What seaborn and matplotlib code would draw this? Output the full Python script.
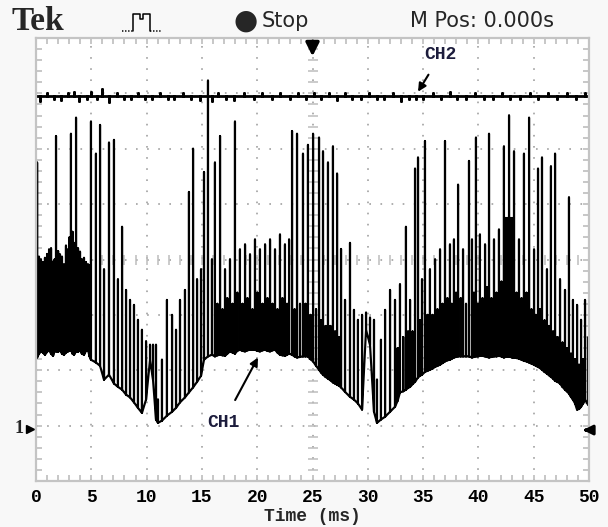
import numpy as np
import pandas as pd
import matplotlib
matplotlib.use("Agg")
import matplotlib.pyplot as plt
from matplotlib.ticker import MultipleLocator
from matplotlib.lines import Line2D
import seaborn as sns

# ---------------- data (time in ms, amplitude in divisions above CH1 ground) -------------
# main CH1 strokes
ch1_t = [0.10, 0.45, 0.81, 1.18, 1.54, 1.81, 2.17, 2.53, 2.89, 3.16, 3.44, 3.62, 3.98, 4.34, 4.70,
         4.97, 5.42, 5.79, 6.15, 6.60, 7.05, 7.41, 7.78, 8.14, 8.50, 8.86, 9.22, 9.58, 9.95, 10.31,
         10.58, 10.85, 11.03, 11.39, 11.84, 12.30, 12.66, 13.02, 13.47, 13.83, 14.20, 14.56, 14.92,
         15.19, 15.55, 15.91, 16.18, 16.64, 17.09, 17.54, 17.99, 18.44, 18.90, 19.35, 19.80, 20.25,
         20.71, 21.16, 21.61, 22.06, 22.51, 22.88, 23.15, 23.60, 24.14, 24.59, 25.05, 25.59, 25.95,
         26.40, 26.85, 27.22, 27.58, 27.94, 28.39, 28.75, 29.11, 29.48, 29.84, 30.20, 30.56, 30.83,
         31.19, 31.56, 32.01, 32.46, 32.91, 33.45, 33.82, 34.27, 34.54, 34.90, 35.17, 35.62, 36.08,
         36.53, 36.98, 37.43, 37.79, 38.16, 38.61, 39.15, 39.42, 39.78, 40.14, 40.60, 40.96, 41.41,
         41.86, 42.31, 42.59, 42.77, 43.04, 43.22, 43.67, 44.12, 44.58, 45.03, 45.39, 45.75, 46.20,
         46.56, 46.93, 47.38, 47.83, 48.19, 48.55, 48.92, 49.28, 49.64, 49.91]
ch1_lo = [1.23, 1.34, 1.28, 1.37, 1.26, 1.34, 1.37, 1.28, 1.34, 1.37, 1.28, 1.34, 1.37, 1.28, 1.37,
          1.19, 1.14, 1.08, 0.83, 0.92, 0.76, 0.70, 0.65, 0.56, 0.51, 0.42, 0.32, 0.23, 0.47, 1.19,
          0.83, 0.11, 0.05, 0.09, 0.18, 0.25, 0.32, 0.42, 0.51, 0.60, 0.69, 0.79, 0.90,
          1.19, 1.25, 1.28, 1.25, 1.28, 1.26, 1.34, 1.30, 1.37, 1.34, 1.37, 1.37, 1.34,
          1.37, 1.34, 1.37, 1.28, 1.26, 1.30, 1.28, 1.23, 1.25, 1.25, 1.16, 1.01, 0.92,
          0.85, 0.78, 0.74, 0.69, 0.61, 0.52, 0.47, 0.40, 0.29, 1.73, 1.46, 0.25, 0.05,
          0.11, 0.16, 0.25, 0.34, 0.60, 0.65, 0.70, 0.79, 0.87, 0.92, 0.97, 1.01, 1.06,
          1.10, 1.16, 1.19, 1.23, 1.25, 1.25, 1.25, 1.23, 1.25, 1.26, 1.25, 1.23, 1.25,
          1.26, 1.23, 1.25, 1.25, 1.23, 1.23, 1.21, 1.17, 1.14, 1.10, 1.06, 1.01, 0.94,
          0.88, 0.81, 0.76, 0.65, 0.58, 0.47, 0.29, 0.34, 0.47, 0.38]
ch1_hi = [4.75, 3.00, 3.03, 3.18, 2.96, 5.23, 3.09, 2.91, 3.18, 5.27, 3.30, 5.56, 3.14, 3.03, 2.91,
          5.49, 4.91, 5.43, 2.82, 5.11, 5.16, 2.64, 3.59, 2.45, 2.27, 2.18, 1.91, 1.73, 1.52, 1.46,
          1.46, 1.46, 0.47, 1.19, 2.27, 2.00, 1.73, 2.27, 2.45, 4.22, 5.00, 2.64, 2.82,
          4.58, 6.23, 3.00, 4.75, 5.23, 2.82, 3.00, 5.49, 3.18, 3.27, 3.09, 3.36, 3.18,
          3.27, 3.36, 3.18, 3.45, 3.27, 3.36, 5.32, 5.27, 4.91, 5.07, 5.27, 5.20, 4.95,
          4.75, 5.04, 4.55, 3.19, 2.27, 3.30, 2.09, 1.91, 2.00, 2.04, 1.95, 1.91, 0.83,
          1.55, 2.09, 2.45, 2.27, 2.55, 3.59, 2.27, 4.64, 4.84, 2.64, 5.14, 2.82, 3.00,
          3.18, 5.14, 3.27, 3.36, 4.35, 3.18, 4.78, 3.36, 5.20, 3.45, 3.27, 5.27, 3.36,
          3.54, 5.04, 3.75, 5.60, 3.75, 4.95, 3.36, 4.91, 5.56, 3.18, 4.64, 4.84, 2.82,
          4.68, 4.91, 2.64, 2.45, 4.12, 2.27, 2.18, 1.91, 2.27, 1.59]

# shorter in-between CH1 strokes (the denser parts of the trace)
ch1_fill_t = [0.27, 0.63, 1.00, 1.36, 1.68, 2.00, 2.35, 2.71, 3.03, 3.30, 3.80, 4.15, 4.52, 4.84,
              16.40, 16.86, 17.30, 17.77, 18.20, 18.67, 19.12, 19.57, 20.02, 20.48, 20.93, 21.38,
              21.83, 22.28, 22.70, 23.38, 23.87,
              24.37, 24.82, 25.32, 25.77, 26.18, 26.62, 27.04, 27.40,
              32.70, 33.20, 33.64, 34.05, 34.72, 35.40, 35.85,
              36.30, 36.75, 37.20, 37.60, 37.98, 38.40, 38.88, 39.60, 39.96, 40.37, 40.78, 41.18,
              41.63, 42.08, 42.45, 42.68, 42.90, 43.13, 43.45, 43.90, 44.35, 44.80, 45.20, 45.57,
              45.98, 46.38, 46.75, 47.15, 47.60, 48.00, 48.37, 48.74, 49.10, 49.46]
ch1_fill_lo = [1.30, 1.32, 1.33, 1.30, 1.35, 1.33, 1.30, 1.32, 1.35, 1.30, 1.33, 1.30, 1.35, 1.25,
               1.27, 1.27, 1.30, 1.32, 1.35, 1.35, 1.36, 1.37, 1.35, 1.36, 1.35, 1.36,
               1.32, 1.27, 1.28, 1.25, 1.24,
               1.25, 1.20, 1.08, 0.96, 0.88, 0.82, 0.76, 0.72,
               0.45, 0.62, 0.68, 0.75, 0.90, 0.99, 1.03,
               1.08, 1.13, 1.18, 1.21, 1.24, 1.25, 1.25, 1.24, 1.25, 1.26, 1.24, 1.24,
               1.25, 1.25, 1.24, 1.25, 1.24, 1.23, 1.22, 1.19, 1.16, 1.12, 1.08, 1.04,
               0.97, 0.91, 0.85, 0.79, 0.70, 0.62, 0.52, 0.40, 0.30, 0.40]
ch1_fill_hi = [3.05, 2.95, 3.10, 3.20, 3.00, 3.15, 3.05, 3.25, 3.40, 3.50, 3.20, 3.00, 2.95, 2.90,
               2.20, 2.10, 2.30, 2.20, 2.40, 2.20, 2.30, 2.10, 2.40, 2.20, 2.30, 2.20,
               2.10, 2.30, 2.20, 2.10, 2.20,
               2.20, 2.00, 2.10, 1.90, 1.80, 1.80, 1.70, 1.60,
               1.40, 1.60, 1.70, 1.70, 1.90, 2.00, 2.00,
               2.10, 2.20, 2.30, 2.20, 2.40, 2.30, 2.20, 2.40, 2.20, 2.30, 2.50, 2.30,
               2.40, 2.60, 3.75, 3.75, 3.75, 3.60, 2.40, 2.30, 2.40, 2.10, 2.00, 2.10,
               1.90, 1.80, 1.70, 1.60, 1.50, 1.40, 1.30, 1.20, 1.10, 1.20]

ch2_level = 5.95
ch2_glitch_t = [0.4, 1.0, 1.6, 2.3, 2.9, 3.4, 3.9, 4.6, 5.0, 5.5, 6.0, 6.6, 7.3, 8.0, 8.6, 9.2, 9.9,
                10.5, 11.2, 11.9, 12.5, 13.3, 14.0, 14.8, 15.9, 16.5, 17.2, 17.9, 18.8, 19.7, 20.4,
                21.3, 22.1, 23.0, 23.7, 24.4, 25.1, 25.8, 26.5, 27.2, 27.9, 28.6, 29.4, 30.1, 30.8,
                31.5, 32.3, 33.0, 33.7, 34.4, 35.0, 35.9, 36.6, 37.4, 38.1, 38.9, 39.7, 40.5, 41.3,
                42.1, 42.9, 43.8, 44.7, 45.4, 46.3, 47.1, 48.0, 48.8, 49.6]
ch2_glitch_d = [-0.08, 0.06, -0.06, -0.07, 0.05, 0.08, -0.08, -0.05, 0.07, -0.06, 0.12, -0.10,
                0.05, -0.06, -0.06, 0.05, -0.06, -0.05, 0.05, -0.06, -0.05, 0.06, -0.06, -0.07,
                -0.08, 0.06, -0.06, -0.07, 0.05, -0.06, 0.06, -0.06, 0.05, -0.06, 0.05, -0.05,
                0.06, -0.05, 0.05, -0.07, 0.06, -0.05, -0.06, 0.05, -0.06, -0.05, 0.06, -0.08,
                -0.06, -0.06, -0.05, 0.06, -0.05, 0.07, -0.06, -0.05, 0.05, -0.06, -0.05, 0.05,
                -0.06, -0.05, 0.05, -0.06, 0.05, -0.05, 0.06, -0.05, 0.05]

x_ticks = [0, 5, 10, 15, 20, 25, 30, 35, 40, 45, 50]
x_tick_labels = ["0", "5", "10", "15", "20", "25", "30", "35", "40", "45", "50"]
x_label = "Time (ms)"

# ---------------- build traces -------------------
strokes = pd.concat([
    pd.DataFrame({"t": ch1_t, "lo": ch1_lo, "hi": ch1_hi}),
    pd.DataFrame({"t": ch1_fill_t, "lo": ch1_fill_lo, "hi": ch1_fill_hi}),
]).sort_values("t", kind="stable")
xs, ys = [], []
for t, lo, hi in strokes[["t", "lo", "hi"]].itertuples(index=False):
    xs += [t, t, t]
    ys += [lo, hi, lo]
ch1 = pd.DataFrame({"t": xs, "v": ys})

xs2, ys2 = [0.0], [ch2_level]
for t, d in zip(ch2_glitch_t, ch2_glitch_d):
    xs2 += [t, t, t]
    ys2 += [ch2_level, ch2_level + d, ch2_level]
xs2.append(50.0)
ys2.append(ch2_level)
ch2 = pd.DataFrame({"t": xs2, "v": ys2})

# ---------------- figure -------------------
sns.set_theme(style="white")
plt.rcParams["lines.scale_dashes"] = False
mono = "Liberation Mono"
hdr = "DejaVu Sans"

fig = plt.figure(figsize=(6.08, 5.27), dpi=100, facecolor="#f8f8f8")
ax = fig.add_axes([36 / 608, 1 - 481 / 527, 553 / 608, 443 / 527])
ax.set_facecolor("white")

sns.lineplot(data=ch2, x="t", y="v", sort=False, estimator=None, color="black", lw=2.0, ax=ax)
sns.lineplot(data=ch1, x="t", y="v", sort=False, estimator=None, color="black", lw=1.55, ax=ax)

ax.set_xlim(0, 50)
ax.set_ylim(-1, 7)
ax.set_xticks(x_ticks)
ax.set_xticklabels(x_tick_labels, fontfamily=mono, fontweight="bold", fontsize=13)
ax.xaxis.set_minor_locator(MultipleLocator(1))
ax.yaxis.set_major_locator(MultipleLocator(1))
ax.yaxis.set_minor_locator(MultipleLocator(0.2))
ax.set_yticklabels([])
ax.set_ylabel("")
ax.set_xlabel(x_label, fontfamily=mono, fontweight="bold", fontsize=13, labelpad=1)
ax.tick_params(which="both", direction="in", length=4, width=1.2, color="#bdbdbd",
               top=True, right=True, left=True, bottom=True)
ax.tick_params(axis="x", which="major", pad=6, labelcolor="black")
ax.grid(which="major", color="#a8a8a8", linestyle=(0, (1.2, 6.8)), lw=1.3)
for s in ax.spines.values():
    s.set_color("#c4c4c4")
    s.set_linewidth(1.6)

# center graticule ticks
cy = np.arange(-1, 7.001, 0.2)
cx = np.arange(0, 50.001, 1)
ax.plot(np.full_like(cy, 25), cy, ls="none", marker="_", ms=7, mew=1.1, color="#bdbdbd", zorder=1)
ax.plot(cx, np.full_like(cx, 3), ls="none", marker="|", ms=7, mew=1.1, color="#bdbdbd", zorder=1)

# trigger arrow at top, trigger level, ground marker
ax.annotate("", xy=(25, 6.62), xytext=(25, 6.99),
            arrowprops=dict(arrowstyle="-|>", color="black", lw=2.4, mutation_scale=20))
ax.annotate("", xy=(49.2, -0.08), xytext=(50.1, -0.08), annotation_clip=False,
            arrowprops=dict(arrowstyle="-|>", color="black", lw=2.2, mutation_scale=14))
ax.text(-1.55, -0.06, "1", fontfamily="Liberation Serif", fontweight="bold", fontsize=13,
        ha="center", va="center", clip_on=False)
ax.plot([-0.55], [-0.06], marker=">", ms=6, color="black", clip_on=False)

# channel labels
ax.annotate("CH1", xy=(20.07, 1.23), xytext=(16.9, 0.05), ha="center", va="center",
            fontfamily=mono, fontweight="bold", fontsize=13, color="#1c1c3c",
            arrowprops=dict(arrowstyle="-|>", color="black", lw=1.5, mutation_scale=12,
                            shrinkA=9, shrinkB=0))
ax.annotate("CH2", xy=(34.54, 6.03), xytext=(36.6, 6.70), ha="center", va="center",
            fontfamily=mono, fontweight="bold", fontsize=13, color="#1c1c3c",
            arrowprops=dict(arrowstyle="-|>", color="black", lw=1.5, mutation_scale=12,
                            shrinkA=7, shrinkB=0))

# header
fig.text(11 / 608, 1 - 21 / 527, "Tek", fontfamily="Liberation Serif", fontweight="bold",
         fontsize=24, ha="left", va="center")
fig.text(246 / 608, 1 - 21 / 527, "\u25CF", fontfamily="DejaVu Sans", fontsize=20,
         ha="center", va="center")
fig.text(262 / 608, 1 - 21 / 527, "Stop", fontfamily=hdr, fontsize=15, ha="left", va="center")
fig.text(410 / 608, 1 - 21 / 527, "M Pos: 0.000s", fontfamily=hdr, fontsize=15,
         ha="left", va="center")
# acquisition icon
px = [133, 133, 140, 140, 143, 143, 150, 150]
py = [31, 14, 14, 19, 19, 14, 14, 31]
fig.add_artist(Line2D([p / 608 for p in px], [1 - q / 527 for q in py],
                      transform=fig.transFigure, color="black", lw=1.1))
for x0, x1 in ((122, 133), (150, 162)):
    fig.add_artist(Line2D([x0 / 608, x1 / 608], [1 - 31 / 527, 1 - 31 / 527],
                          transform=fig.transFigure, color="black", lw=1.1,
                          linestyle=(0, (1.0, 1.2))))

fig.savefig("out.png", dpi=100, facecolor=fig.get_facecolor())
